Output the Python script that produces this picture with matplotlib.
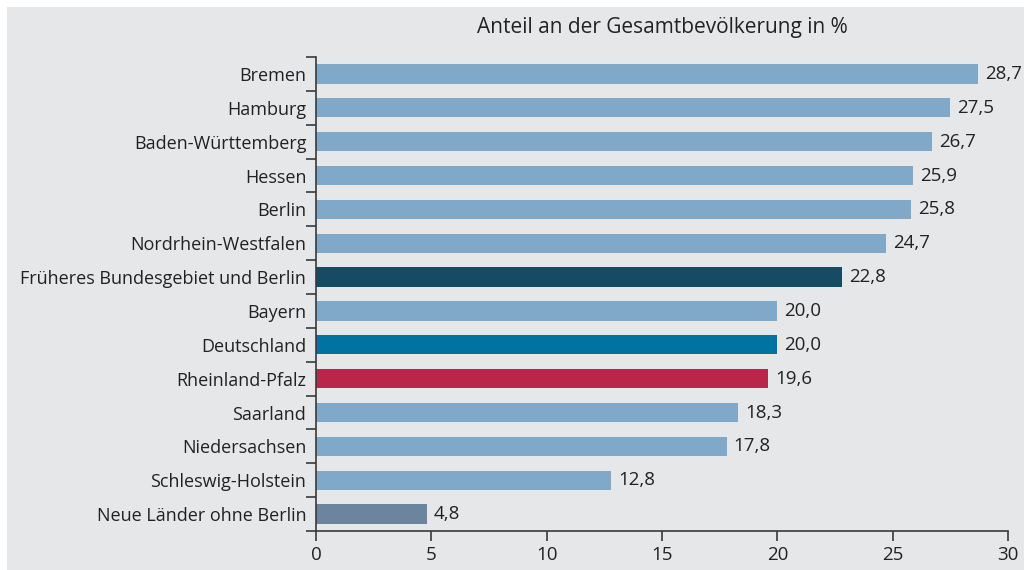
import matplotlib
matplotlib.use("Agg")
import matplotlib.pyplot as plt
from matplotlib.patches import Rectangle
from matplotlib.ticker import FixedLocator

categories = ["Bremen", "Hamburg", "Baden-Württemberg", "Hessen", "Berlin",
              "Nordrhein-Westfalen", "Früheres Bundesgebiet und Berlin", "Bayern",
              "Deutschland", "Rheinland-Pfalz", "Saarland", "Niedersachsen",
              "Schleswig-Holstein", "Neue Länder ohne Berlin"]
values = [28.7, 27.5, 26.7, 25.9, 25.8, 24.7, 22.8, 20.0, 20.0, 19.6, 18.3, 17.8, 12.8, 4.8]
light = "#7fa8c9"
colors = [light] * 6 + ["#174a63", light, "#0073a3", "#b8264a", light, light, light, "#6a859d"]
xticks = [0, 5, 10, 15, 20, 25, 30]
title = "Anteil an der Gesamtbevölkerung in %"

plt.rcParams['font.family'] = ['Open Sans', 'DejaVu Sans']
txt = "#222222"
axcol = "#3a3a3a"
bg = "#e6e7e9"

fig = plt.figure(figsize=(10.24, 5.70), dpi=100)
fig.patch.set_facecolor("white")
fig.patches.append(Rectangle((7/1024, 0), 1, 1 - 7/570, transform=fig.transFigure,
                             facecolor=bg, edgecolor="none", zorder=-10))
ax = fig.add_axes([316/1024, 1 - 531/570, (1008 - 316)/1024, (531 - 57)/570])
ax.set_facecolor("none")
ax.set_zorder(5)

y = list(range(len(categories)))
ax.barh(y, values, height=0.57, color=colors, zorder=2)
ax.set_ylim(len(categories) - 0.5, -0.5)
ax.set_xlim(0, 30)
ax.set_yticks(y)
ax.set_yticklabels(categories, fontsize=13, color=txt)
ax.tick_params(axis='y', which='major', length=0, pad=7)
ax.yaxis.set_minor_locator(FixedLocator([i - 0.5 for i in range(len(categories) + 1)]))
ax.tick_params(axis='y', which='minor', length=7, width=1.2, color=axcol, direction='out')
ax.set_xticks(xticks)
ax.set_xticklabels([str(t) for t in xticks], fontsize=13.5, color=txt)
ax.tick_params(axis='x', length=7, width=1.2, color=axcol, pad=4)

for s in ['top', 'right']:
    ax.spines[s].set_visible(False)
for s in ['left', 'bottom']:
    ax.spines[s].set_color(axcol)
    ax.spines[s].set_linewidth(1.2)

for yi, v in zip(y, values):
    ax.text(v + 0.3, yi, f"{v:.1f}".replace(".", ","), va='center', ha='left',
            fontsize=13.5, color=txt)

ax.set_title(title, fontsize=15, color=txt, pad=17)

fig.savefig("out.png", dpi=100, facecolor=fig.get_facecolor())
